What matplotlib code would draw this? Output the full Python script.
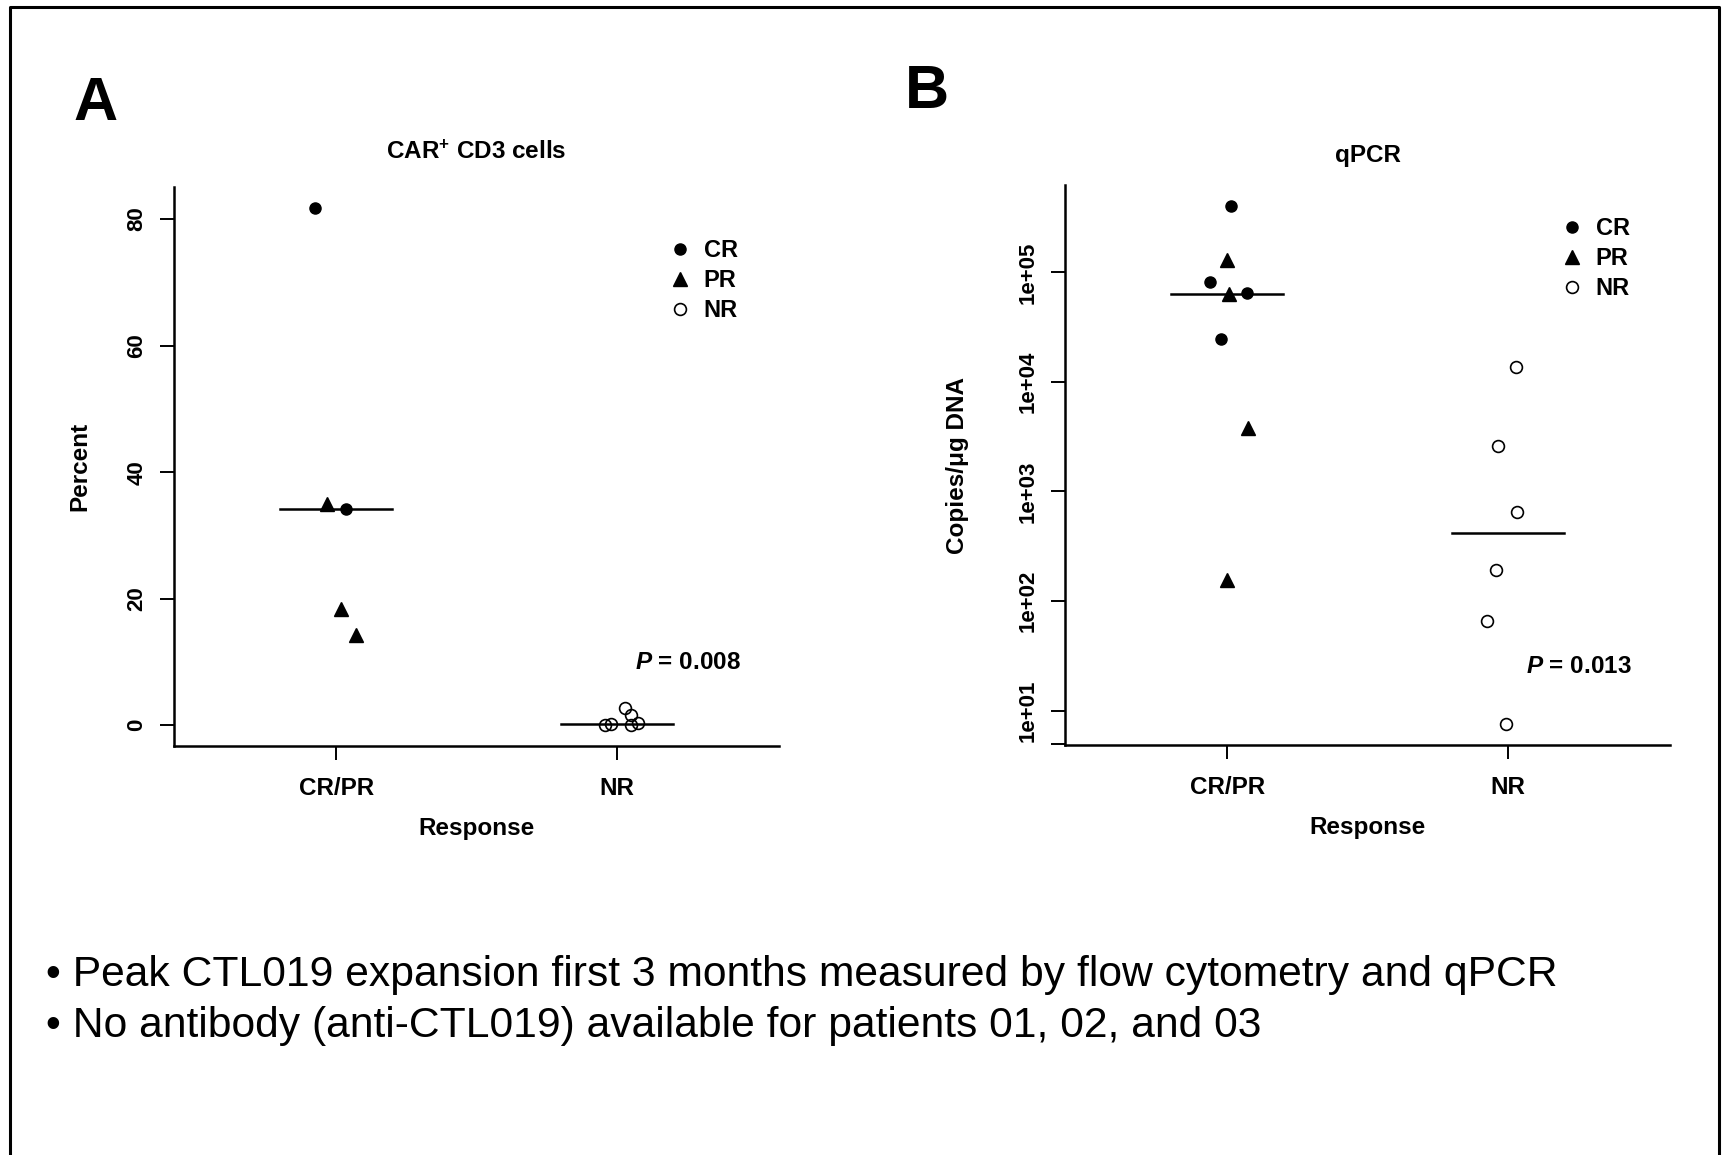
import numpy as np
import matplotlib
matplotlib.use('Agg')
import matplotlib.pyplot as plt
from matplotlib.lines import Line2D

plt.rcParams['font.family'] = ['Liberation Sans', 'DejaVu Sans']
plt.rcParams['font.weight'] = 'bold'
plt.rcParams['axes.labelweight'] = 'bold'
plt.rcParams['mathtext.fontset'] = 'custom'
plt.rcParams['mathtext.rm'] = 'Liberation Sans:bold'
plt.rcParams['mathtext.it'] = 'Liberation Sans:bold:italic'
plt.rcParams['mathtext.bf'] = 'Liberation Sans:bold'

groups = ['CR/PR', 'NR']

# A: peak CAR+ CD3 cells (percent)
car_resp = ['CR', 'PR', 'CR', 'PR', 'PR', 'NR', 'NR', 'NR', 'NR', 'NR', 'NR']
car_pct = [81.8, 35.0, 34.2, 18.4, 14.2, 0.0, 0.2, 2.7, 1.6, 0.05, 0.3]
car_jit = [-0.075, -0.035, 0.035, 0.016, 0.071, -0.043, -0.019, 0.029, 0.052, 0.052, 0.076]

# B: qPCR copies per ug DNA
qpcr_resp = ['CR', 'PR', 'CR', 'PR', 'CR', 'CR', 'PR', 'PR',
             'NR', 'NR', 'NR', 'NR', 'NR', 'NR']
qpcr_copies = [406000, 130000, 80900, 63000, 65000, 24700, 3820, 154,
               13700, 2590, 645, 193, 65.3, 7.5]
qpcr_jit = [0.014, -0.003, -0.064, 0.007, 0.071, -0.023, 0.073, -0.003,
            0.031, -0.033, 0.035, -0.040, -0.074, -0.005]

W, H = 1725, 1155
fig = plt.figure(figsize=(W / 100, H / 100), dpi=100)

marker_style = {
    'CR': dict(marker='o', mfc='black', mec='black', ms=8),
    'PR': dict(marker='^', mfc='black', mec='black', ms=9.5),
    'NR': dict(marker='o', mfc='none', mec='black', ms=8.5, mew=1.2),
}


def strip(ax, resp, vals, jit, leg_xy):
    resp = np.array(resp)
    vals = np.array(vals, dtype=float)
    xpos = np.where(resp == 'NR', 2, 1) + np.array(jit)
    for r in ['CR', 'PR', 'NR']:
        m = resp == r
        ax.plot(xpos[m], vals[m], ls='none', label=r, **marker_style[r])
    # median bar per group
    for g in [1, 2]:
        sel = (resp == 'NR') if g == 2 else (resp != 'NR')
        med = np.median(vals[sel])
        ax.plot([g - 0.2, g + 0.2], [med, med], color='black', lw=1.8)

    ax.set_xlim(0.42, 2.58)
    ax.set_xticks([1, 2])
    ax.set_xticklabels(groups, fontsize=17.5)
    for s in ['top', 'right']:
        ax.spines[s].set_visible(False)
    for s in ['left', 'bottom']:
        ax.spines[s].set_linewidth(1.8)
    ax.tick_params(axis='both', length=10, width=1.4, direction='out')
    ax.tick_params(axis='x', pad=12)
    ax.tick_params(axis='y', labelsize=16, labelrotation=90, pad=9)
    ax.set_xlabel('Response', fontsize=17.5)
    ax.xaxis.set_label_coords(0.5, -0.127)
    ax.legend(loc='center left', frameon=False, fontsize=17, handlelength=1.0,
              handletextpad=0.5, labelspacing=0.3, borderpad=0, borderaxespad=0,
              bbox_to_anchor=leg_xy)


# panel A
axA = fig.add_axes([174 / W, 1 - 746 / H, 605 / W, 559 / H])
strip(axA, car_resp, car_pct, car_jit, (0.817, 0.832))
axA.set_ylim(-3.27, 85.07)
axA.set_yticks([0, 20, 40, 60, 80])
axA.set_yticklabels(['0', '20', '40', '60', '80'])
for lab in axA.get_yticklabels():
    lab.set_va('center')
axA.set_ylabel('Percent', fontsize=17.5)
axA.yaxis.set_label_coords(-0.136, 0.5)
axA.text(0.5, 1.062, r'$\mathrm{CAR}^{+}$ CD3 cells', transform=axA.transAxes,
         ha='center', va='center', fontsize=17.5)
axA.text(0.762, 0.15, '$P$ = 0.008', transform=axA.transAxes,
         ha='left', va='center', fontsize=17.5)

# panel B
axB = fig.add_axes([1065 / W, 1 - 745 / H, 605 / W, 560 / H])
strip(axB, qpcr_resp, qpcr_copies, qpcr_jit, (0.8185, 0.869))
axB.set_yscale('log')
axB.set_ylim(10 ** 0.686, 10 ** 5.797)
axB.set_yticks([5, 1e1, 1e2, 1e3, 1e4, 1e5])
axB.set_yticklabels(['', '1e+01', '1e+02', '1e+03', '1e+04', '1e+05'])
axB.yaxis.set_minor_locator(matplotlib.ticker.NullLocator())
for lab in axB.get_yticklabels():
    lab.set_va('center')
axB.set_ylabel('Copies/μg DNA', fontsize=17.5)
axB.yaxis.set_label_coords(-0.158, 0.5)
axB.text(0.5, 1.052, 'qPCR', transform=axB.transAxes,
         ha='center', va='center', fontsize=17.5)
axB.text(0.762, 0.141, '$P$ = 0.013', transform=axB.transAxes,
         ha='left', va='center', fontsize=17.5)

# panel letters
fig.text(73 / W, 1 - 105 / H, 'A', fontsize=44, ha='left', va='center')
fig.text(905 / W, 1 - 92 / H, 'B', fontsize=44, ha='left', va='center')

# notes under the plots
fig.text(46 / W, 1 - 975 / H,
         '• Peak CTL019 expansion first 3 months measured by flow cytometry and qPCR',
         fontsize=30.7, fontweight='normal', ha='left', va='center')
fig.text(46 / W, 1 - 1026 / H,
         '• No antibody (anti-CTL019) available for patients 01, 02, and 03',
         fontsize=30.7, fontweight='normal', ha='left', va='center')

# slide frame (bottom edge falls below the image)
fig.add_artist(Line2D([10 / W, 10 / W, 1719 / W, 1719 / W], [-0.01, 1 - 7 / H, 1 - 7 / H, -0.01],
                      transform=fig.transFigure, color='black', lw=2.2))

fig.savefig('out.png', dpi=100)
